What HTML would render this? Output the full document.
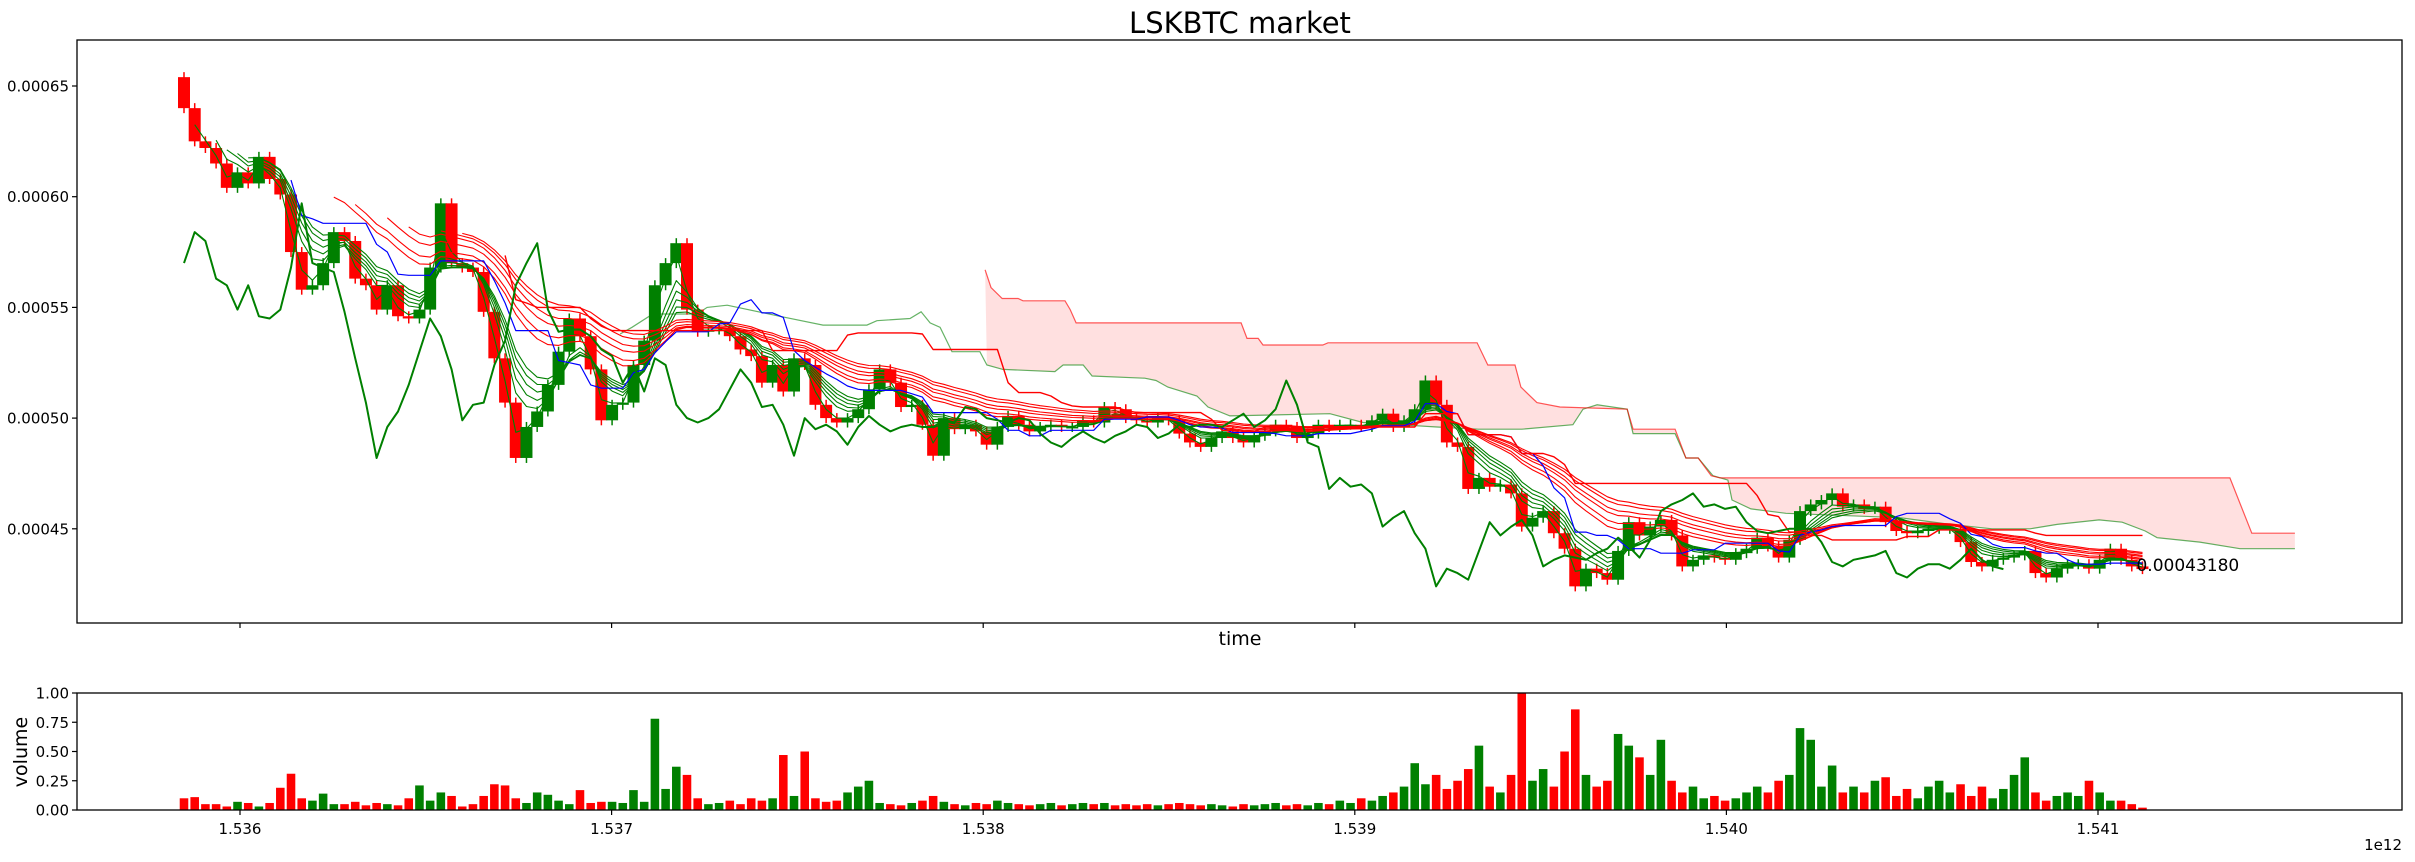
<!DOCTYPE html>
<html><head><meta charset="utf-8"><title>LSKBTC market</title>
<style>
html,body{margin:0;padding:0;background:#fff;}
svg{display:block;font-family:"DejaVu Sans","Liberation Sans",sans-serif;}
</style></head>
<body>
<svg id="chart" xmlns="http://www.w3.org/2000/svg" width="2415" height="862" viewBox="0 0 2415 862">
<rect x="0" y="0" width="2415" height="862" fill="#fff"/>
<text x="1240" y="33" font-size="29" text-anchor="middle" fill="#000">LSKBTC market</text>
<text x="1240" y="645" font-size="19" text-anchor="middle" fill="#000">time</text>
<text x="27" y="752" font-size="19" text-anchor="middle" fill="#000" transform="rotate(-90 27 752)">volume</text>
<text x="2402" y="850" font-size="15" text-anchor="end" fill="#000">1e12</text>
<g id="main"></g>
<g id="vol"></g>
</svg>
<script>
// ---- data ----
const firstTime = 1535849300000;
const stepMs = 28800000;
const firstOpen = 0.000654;
const closes = [0.000640,0.000625,0.000622,0.000615,0.000604,0.000611,0.000606,0.000618,0.000608,0.000601,
0.000575,0.000558,0.000560,0.000570,0.000584,0.000580,0.000563,0.000560,0.000549,0.000560,
0.000546,0.000545,0.000549,0.000568,0.000597,0.000570,0.000568,0.000566,0.000548,0.000527,
0.000507,0.000482,0.000496,0.000503,0.000515,0.000530,0.000545,0.000537,0.000522,0.000499,
0.000506,0.000507,0.000524,0.000535,0.000560,0.000570,0.000579,0.000549,0.000539,0.000540,
0.000540,0.000537,0.000531,0.000528,0.000516,0.000524,0.000512,0.000527,0.000524,0.000506,
0.000500,0.000498,0.000500,0.000504,0.000513,0.000522,0.000516,0.000505,0.000506,0.000497,
0.000483,0.000500,0.000495,0.000497,0.000494,0.000488,0.000496,0.000501,0.000497,0.000494,
0.000496,0.000497,0.000496,0.000496,0.000499,0.000498,0.000505,0.000504,0.000500,0.000499,
0.000498,0.000500,0.000499,0.000493,0.000489,0.000487,0.000491,0.000494,0.000491,0.000489,
0.000492,0.000494,0.000497,0.000496,0.000491,0.000493,0.000497,0.000496,0.000497,0.000497,
0.000496,0.000499,0.000502,0.000496,0.000499,0.000504,0.000517,0.000506,0.000489,0.000487,
0.000468,0.000473,0.000469,0.000470,0.000466,0.000451,0.000455,0.000458,0.000448,0.000441,
0.000424,0.000432,0.000430,0.000427,0.000440,0.000453,0.000447,0.000451,0.000454,0.000447,
0.000433,0.000436,0.000438,0.000437,0.000436,0.000439,0.000441,0.000446,0.000442,0.000437,
0.000445,0.000458,0.000461,0.000463,0.000466,0.000460,0.000461,0.000459,0.000460,0.000453,
0.000449,0.000448,0.000449,0.000450,0.000450,0.000450,0.000444,0.000435,0.000433,0.000436,
0.000437,0.000438,0.000440,0.000430,0.000428,0.000432,0.000434,0.000434,0.000432,0.000436,
0.000441,0.000436,0.000433,0.0004318];
const volumes = [0.10,0.11,0.05,0.05,0.03,0.07,0.06,0.03,0.06,0.19,
0.31,0.10,0.08,0.14,0.05,0.05,0.07,0.04,0.06,0.05,
0.04,0.10,0.21,0.08,0.15,0.12,0.03,0.05,0.12,0.22,
0.21,0.10,0.06,0.15,0.13,0.08,0.05,0.17,0.06,0.07,
0.07,0.06,0.17,0.07,0.78,0.18,0.37,0.30,0.10,0.05,
0.06,0.08,0.05,0.10,0.08,0.10,0.47,0.12,0.50,0.10,
0.07,0.08,0.15,0.20,0.25,0.06,0.05,0.04,0.06,0.08,
0.12,0.07,0.05,0.04,0.06,0.05,0.08,0.06,0.05,0.04,
0.05,0.06,0.04,0.05,0.06,0.05,0.06,0.04,0.05,0.04,
0.05,0.04,0.05,0.06,0.05,0.04,0.05,0.04,0.03,0.05,
0.04,0.05,0.06,0.04,0.05,0.04,0.06,0.05,0.08,0.06,
0.10,0.08,0.12,0.15,0.20,0.40,0.22,0.30,0.18,0.25,
0.35,0.55,0.20,0.15,0.30,1.00,0.25,0.35,0.20,0.50,
0.86,0.30,0.20,0.25,0.65,0.55,0.45,0.30,0.60,0.25,
0.15,0.20,0.10,0.12,0.08,0.10,0.15,0.20,0.15,0.25,
0.30,0.70,0.60,0.20,0.38,0.15,0.20,0.15,0.25,0.28,
0.12,0.18,0.10,0.20,0.25,0.15,0.22,0.12,0.20,0.10,
0.18,0.30,0.45,0.15,0.08,0.12,0.15,0.12,0.25,0.15,
0.08,0.08,0.05,0.02];
// cloud boundaries (time in units of 1e12 ms, price)
const cloudTopTimes = [1.538005,1.538021,1.538051,1.538094,1.538107,1.538220,1.538234,1.538250,1.538694,1.538710,1.538740,1.538753,1.538914,1.538928,1.539329,1.539358,1.539431,1.539447,1.539490,1.539552,1.539733,1.539749,1.539862,1.539891,1.539924,1.539959,1.539983,1.541355,1.541414,1.541530];
const cloudTopValues = [0.000567,0.000559,0.000554,0.000554,0.000553,0.000553,0.000549,0.000543,0.000543,0.000536,0.000536,0.000533,0.000533,0.000534,0.000534,0.000524,0.000524,0.000514,0.000507,0.000505,0.000504,0.000495,0.000495,0.000482,0.000482,0.000474,0.000473,0.000473,0.000448,0.000448];
const cloudBottomTimes = [1.537023,1.537055,1.537111,1.537230,1.537257,1.537311,1.537453,1.537569,1.537687,1.537714,1.537803,1.537833,1.537857,1.537884,1.537916,1.537991,1.538010,1.538053,1.538193,1.538215,1.538269,1.538293,1.538435,1.538465,1.538497,1.538575,1.538605,1.538664,1.538933,1.539022,1.539221,1.539332,1.539450,1.539587,1.539614,1.539652,1.539733,1.539749,1.539862,1.539891,1.539924,1.539964,1.540004,1.540015,1.540066,1.540160,1.540467,1.540602,1.540715,1.540817,1.540890,1.541003,1.541065,1.541127,1.541159,1.541274,1.541382,1.541530];
const cloudBottomValues = [0.000538,0.000541,0.000547,0.000547,0.000550,0.000551,0.000546,0.000542,0.000542,0.000544,0.000545,0.000548,0.000543,0.000541,0.000530,0.000530,0.000524,0.000522,0.000521,0.000524,0.000524,0.000519,0.000518,0.000517,0.000514,0.000510,0.000505,0.000501,0.000502,0.000498,0.000496,0.000495,0.000495,0.000497,0.000504,0.000506,0.000504,0.000493,0.000493,0.000482,0.000482,0.000474,0.000472,0.000463,0.000459,0.000457,0.000455,0.000452,0.000450,0.000450,0.000452,0.000454,0.000453,0.000449,0.000446,0.000444,0.000441,0.000441];
const cloudStart = 1.538005;
const priceTicks = [0.00045,0.00050,0.00055,0.00060,0.00065];
const priceTickLabels = ["0.00045","0.00050","0.00055","0.00060","0.00065"];
const timeTicks = [1.536,1.537,1.538,1.539,1.540,1.541];
const timeTickLabels = ["1.536","1.537","1.538","1.539","1.540","1.541"];
const volTicks = [0,0.25,0.5,0.75,1.0];
const volTickLabels = ["0.00","0.25","0.50","0.75","1.00"];
const greenPeriods = [2,4,5,6,7,8];
const redPeriods = [15,17,20,22,25,27];
const tenkanPeriod = 10, kijunPeriod = 30, chikouShift = 13;

// ---- scales ----
const AX = {l:77, r:2402, t:40, b:623};
const VX = {t:693, b:810};
function xScale(tMs){ return 240 + (tMs - 1.536e12) / 1e9 * 371.6; }
function xT(t12){ return xScale(t12 * 1e12); }
function yScale(v){ return 86 + (0.00065 - v) * 2214000; }
function vScale(v){ return VX.b - v * (VX.b - VX.t); }

const NS = "http://www.w3.org/2000/svg";
const main = document.getElementById('main');
const volG = document.getElementById('vol');
function mk(tag, attrs, parent){
  const e = document.createElementNS(NS, tag);
  for (const k in attrs) e.setAttribute(k, attrs[k]);
  parent.appendChild(e);
  return e;
}
const times = closes.map((c,i)=> firstTime + i*stepMs);
const opens = closes.map((c,i)=> i===0 ? firstOpen : closes[i-1]);

const defs = mk('defs', {}, main);
const cp = mk('clipPath', {id:'clipMain'}, defs);
mk('rect', {x:AX.l, y:AX.t, width:AX.r-AX.l, height:AX.b-AX.t}, cp);
const plot = mk('g', {'clip-path':'url(#clipMain)'}, main);



function pathFrom(xs, ys){
  let d = '';
  for (let i=0;i<xs.length;i++){ d += (i? 'L':'M') + xs[i].toFixed(1) + ' ' + ys[i].toFixed(1); }
  return d;
}

const topIdx = cloudTopTimes.map((t,i)=>i);
const botIdx = cloudBottomTimes.map((t,i)=>i).filter(i=>cloudBottomTimes[i] >= cloudStart);
let fx = [], fy = [];
topIdx.forEach(i=>{ fx.push(xT(cloudTopTimes[i])); fy.push(yScale(cloudTopValues[i])); });
botIdx.slice().reverse().forEach(i=>{ fx.push(xT(cloudBottomTimes[i])); fy.push(yScale(cloudBottomValues[i])); });
const fill = mk('path', {d: pathFrom(fx, fy) + 'Z', fill:'rgba(255,0,0,0.12)', stroke:'none'}, plot);



const cb = mk('path', {d: pathFrom(cloudBottomTimes.map(xT), cloudBottomValues.map(yScale)), fill:'none', stroke:'rgba(0,128,0,0.6)', 'stroke-width':1.2}, plot);


const ct = mk('path', {d: pathFrom(cloudTopTimes.map(xT), cloudTopValues.map(yScale)), fill:'none', stroke:'rgba(255,0,0,0.65)', 'stroke-width':1.2}, plot);



const xs = times.map(xScale);
const bodyW = 12;
for (let i=0;i<closes.length;i++){
  const o = opens[i], c = closes[i];
  const up = c >= o;
  const col = up ? '#008000' : '#ff0000';
  const yTop = yScale(Math.max(o,c)), yBot = yScale(Math.min(o,c));
  const g = mk('g', {}, plot);
  
  
  mk('line', {x1:xs[i], x2:xs[i], y1:yTop-5, y2:yBot+5, stroke:col, 'stroke-width':1.5}, g);
  mk('rect', {x:xs[i]-bodyW/2, y:yTop, width:bodyW, height:Math.max(1.5, yBot-yTop), fill:col}, g);
}

function ema(p){
  const out = new Array(closes.length).fill(null);
  const k = 2/(p+1);
  let s = 0;
  for (let i=0;i<closes.length;i++){
    if (i < p-1){ s += closes[i]; continue; }
    if (i === p-1){ s += closes[i]; out[i] = s/p; continue; }
    out[i] = closes[i]*k + out[i-1]*(1-k);
  }
  return out;
}
function drawSeries(arr, color, width, name){
  const px=[], py=[];
  arr.forEach((v,i)=>{ if (v!==null){ px.push(xs[i]); py.push(yScale(v)); } });
  const p = mk('path', {d: pathFrom(px,py), fill:'none', stroke:color, 'stroke-width':width, 'stroke-linejoin':'round'}, plot);
  
  
}
greenPeriods.forEach(p=> drawSeries(ema(p), '#008000', 1.1, 'ema-short'));
redPeriods.forEach(p=> drawSeries(ema(p), '#ff0000', 1.1, 'ema-long'));

function midline(p){
  return closes.map((c,i)=>{
    if (i < p) return null;
    const w = closes.slice(i-p, i+1);
    return (Math.max(...w) + Math.min(...w)) / 2;
  });
}
drawSeries(midline(tenkanPeriod), '#0000ff', 1.2, 'tenkan-sen');
drawSeries(midline(kijunPeriod), '#ff0000', 1.4, 'kijun-sen');

const chx=[], chy=[];
for (let i=chikouShift;i<closes.length;i++){ chx.push(xs[i-chikouShift]); chy.push(yScale(closes[i])); }
const ch = mk('path', {d: pathFrom(chx,chy), fill:'none', stroke:'#008000', 'stroke-width':2, 'stroke-linejoin':'round'}, plot);



const last = closes[closes.length-1];
const lbl = mk('text', {x: xs[xs.length-1]-6, y: yScale(last)+2, 'font-size':17, fill:'#000'}, main);
lbl.textContent = last.toFixed(8);



const frame = mk('rect', {x:AX.l, y:AX.t, width:AX.r-AX.l, height:AX.b-AX.t, fill:'none', stroke:'#000', 'stroke-width':1.3}, main);


priceTicks.forEach((v,i)=>{
  const y = yScale(v);
  const t = mk('line', {x1:AX.l-5, x2:AX.l, y1:y, y2:y, stroke:'#000', 'stroke-width':1.2}, main);
  
  
  const tx = mk('text', {x:AX.l-8, y:y+5.5, 'font-size':15, 'text-anchor':'end', fill:'#000'}, main);
  tx.textContent = priceTickLabels[i];
  
  
});
timeTicks.forEach((t)=>{
  const x = xT(t);
  const l = mk('line', {x1:x, x2:x, y1:AX.b, y2:AX.b+5, stroke:'#000', 'stroke-width':1.2}, main);
  
  
});

const barW = stepMs / 1e9 * 371.6 * 0.8;
for (let i=0;i<volumes.length;i++){
  const up = closes[i] >= opens[i];
  const y = vScale(volumes[i]);
  const b = mk('rect', {x: xs[i]-barW/2, y:y, width:barW, height: VX.b - y, fill: up ? '#008000' : '#ff0000'}, volG);
  
  
}
const vframe = mk('rect', {x:AX.l, y:VX.t, width:AX.r-AX.l, height:VX.b-VX.t, fill:'none', stroke:'#000', 'stroke-width':1.3}, volG);


volTicks.forEach((v,i)=>{
  const y = vScale(v);
  const t = mk('line', {x1:AX.l-5, x2:AX.l, y1:y, y2:y, stroke:'#000', 'stroke-width':1.2}, volG);
  
  
  const tx = mk('text', {x:AX.l-8, y:y+5.5, 'font-size':15, 'text-anchor':'end', fill:'#000'}, volG);
  tx.textContent = volTickLabels[i];
  
  
});
timeTicks.forEach((t,i)=>{
  const x = xT(t);
  const l = mk('line', {x1:x, x2:x, y1:VX.b, y2:VX.b+5, stroke:'#000', 'stroke-width':1.2}, volG);
  
  
  const tx = mk('text', {x:x, y:VX.b+24, 'font-size':15, 'text-anchor':'middle', fill:'#000'}, volG);
  tx.textContent = timeTickLabels[i];
  
  
});
</script>
</body></html>
